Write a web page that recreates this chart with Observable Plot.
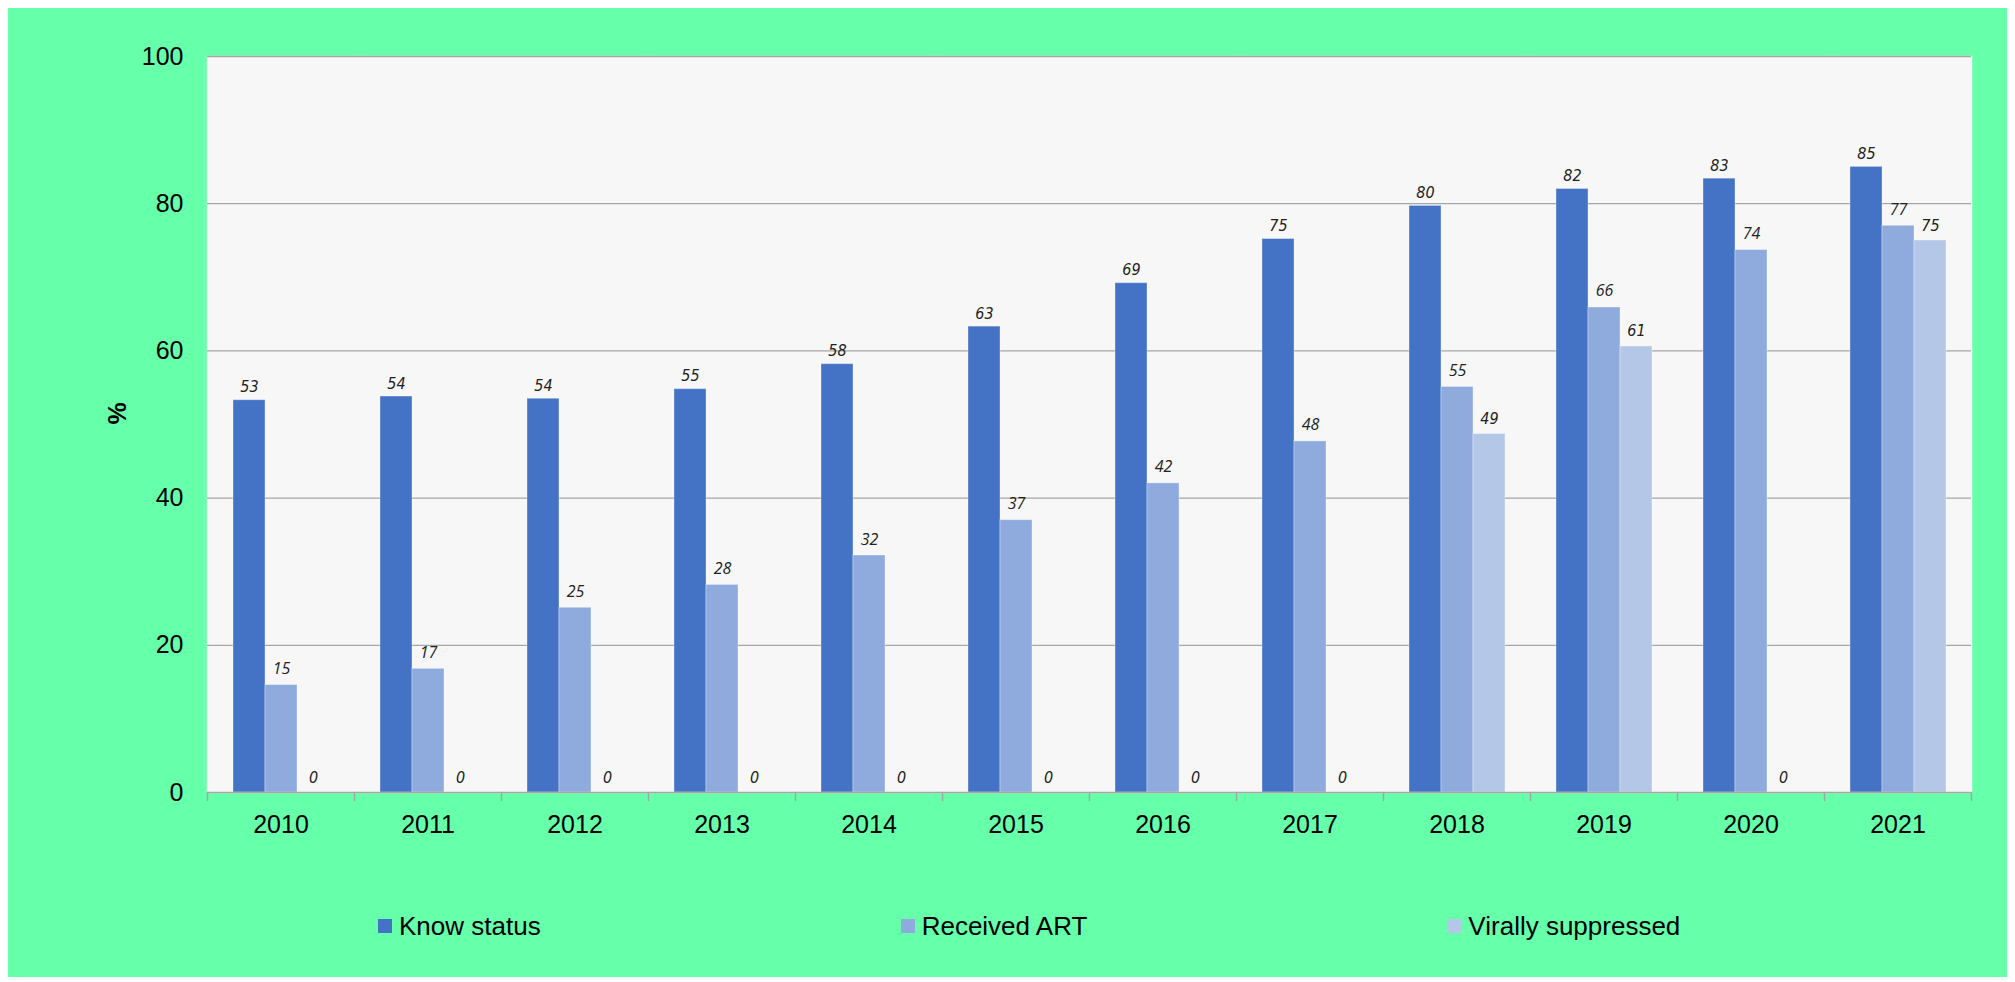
<!DOCTYPE html>
<html>
<head>
<meta charset="utf-8">
<script src="https://cdn.jsdelivr.net/npm/d3@7"></script>
<script src="https://cdn.jsdelivr.net/npm/@observablehq/plot@0.6"></script>
<style>
  body { margin: 8px; background: #ffffff; }
  #card { position: relative; width: 2000px; height: 969px; background: #66ffaa; font-family: "Liberation Sans", Arial, sans-serif; overflow: hidden; }
  #legend { position: absolute; left: 370px; top: 903px; display: flex; gap: 360px; font-size: 26px; line-height: 30px; color: #000; }
  .item { display: flex; align-items: center; gap: 7px; white-space: nowrap; }
  .sw { width: 14px; height: 14px; display: inline-block; }
</style>
</head>
<body>
<div id="card">
  <div id="chart"></div>
  <div id="legend"></div>
</div>
<script>
// ---- data ----
const years = [2010, 2011, 2012, 2013, 2014, 2015, 2016, 2017, 2018, 2019, 2020, 2021];
const series = ["Know status", "Received ART", "Virally suppressed"];
const knowStatus        = [53.3, 53.8, 53.5, 54.8, 58.2, 63.3, 69.2, 75.2, 79.7, 82.0, 83.4, 85.0];
const receivedART       = [14.6, 16.8, 25.1, 28.2, 32.2, 37.0, 42.0, 47.7, 55.1, 65.9, 73.7, 77.0];
const virallySuppressed = [0, 0, 0, 0, 0, 0, 0, 0, 48.7, 60.6, 0, 75.0];
const yTicks = [0, 20, 40, 60, 80, 100];
const colors = ["#4472c4", "#8faadc", "#b4c7e7"];

// long table
const seriesValues = [knowStatus, receivedART, virallySuppressed];
const rows = years.flatMap((year, i) =>
  series.map((s, k) => ({year, series: s, value: seriesValues[k][i]}))
);
const fmt = d3.format(".0f");
const gray = "#a6a6a6";
const narrow = "'Liberation Sans Narrow', 'DejaVu Sans Condensed', 'Arial Narrow', sans-serif";
const lineShape = {draw(ctx, l) { ctx.moveTo(0, 0); ctx.lineTo(0, -l); }};

const labelOpts = [
  {dy: -8,  fontFamily: narrow, fontStyle: "italic"},
  {dy: -11, fontFamily: "'Open Sans', sans-serif", fontStyle: "italic"},
  {dy: -10, fontFamily: narrow, fontStyle: "italic"}
];

const chart = Plot.plot({
  width: 2000,
  height: 860,
  marginLeft: 198,
  marginRight: 36,
  marginTop: 48,
  marginBottom: 76,
  style: {background: "transparent", fontFamily: "'Liberation Sans', Arial, sans-serif", color: "#000", overflow: "visible"},
  fx: {domain: years, paddingInner: 0, paddingOuter: 0},
  x: {domain: series, paddingInner: 0, paddingOuter: 0.75, axis: null},
  y: {domain: [0, 100], axis: null},
  color: {domain: series, range: colors},
  marks: [
    Plot.frame({fill: "#f7f7f7", stroke: "#f7f7f7", strokeWidth: 1.5}),
    Plot.ruleY(yTicks.filter(d => d > 0), {stroke: gray, strokeWidth: 1.3}),
    Plot.barY(rows, {fx: "year", x: "series", y: "value", fill: "series", stroke: "#ffffff", strokeOpacity: 0.35, strokeWidth: 1}),
    Plot.ruleY([0], {stroke: gray, strokeWidth: 1.5}),
    Plot.vector(years, {fx: d => d, frameAnchor: "bottom-left", length: 8, rotate: 180, anchor: "start", shape: lineShape, stroke: gray, strokeWidth: 1.5}),
    Plot.vector([years[years.length - 1]], {fx: d => d, frameAnchor: "bottom-right", length: 8, rotate: 180, anchor: "start", shape: lineShape, stroke: gray, strokeWidth: 1.5}),
    ...series.map((s, k) => Plot.text(rows.filter(d => d.series === s), {
      fx: "year", x: "series", y: "value", text: d => fmt(d.value),
      lineAnchor: "bottom", textAnchor: "middle", fontSize: 16, fill: "#222",
      ...labelOpts[k]
    })),
    Plot.text([{fx: years[0], t: "%"}], {fx: "fx", text: "t", frameAnchor: "left", rotate: -90, dx: -90, fontSize: 25, fontWeight: "bold", fill: "#000"}),
    Plot.axisY(yTicks, {tickSize: 0, tickPadding: 24, fontSize: 25, label: null}),
    Plot.axisFx({anchor: "bottom", tickSize: 0, tickPadding: 23, fontSize: 25, label: null, tickFormat: "d"})
  ]
});
document.getElementById("chart").append(chart);

// legend (HTML, below the SVG)
const legend = document.getElementById("legend");
series.forEach((s, k) => {
  const item = document.createElement("div");
  item.className = "item";
  const sw = document.createElement("span");
  sw.className = "sw";
  sw.style.background = colors[k];
  const label = document.createElement("span");
  label.textContent = s;
  item.append(sw, label);
  legend.append(item);
});
</script>
</body>
</html>
